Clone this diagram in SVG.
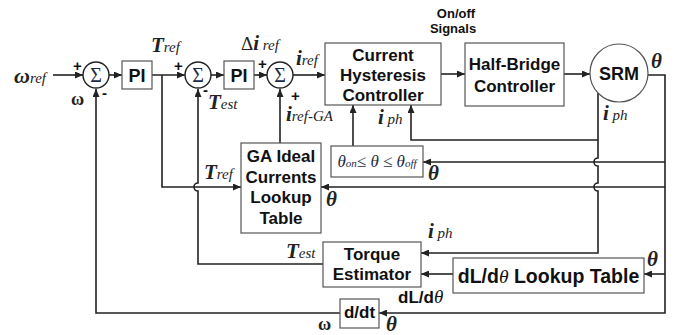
<svg xmlns="http://www.w3.org/2000/svg" width="676" height="335" viewBox="0 0 676 335">
<style>
.ln{stroke:#222;stroke-width:1.6;fill:none}
.box{fill:#fff;stroke:#555;stroke-width:1.2}
.bt{font-family:"Liberation Sans",Arial,sans-serif;font-weight:bold;font-size:17px;fill:#111;text-anchor:middle}
.lb{font-family:"Liberation Serif","Times New Roman",serif;font-style:italic;fill:#222}
.bg{font-weight:bold;font-size:21px}
.sm{font-size:15px;font-weight:normal}
.sg{font-family:"Liberation Sans",Arial,sans-serif;font-weight:bold;font-size:13px;fill:#111}
.sym{font-family:"Liberation Sans",Arial,sans-serif;font-size:15px;font-weight:bold;fill:#111}
.sum{font-family:"Liberation Serif",serif;font-size:20px;fill:#1d2a44;text-anchor:middle}
.sig{font-family:"Liberation Serif",serif;font-size:17px;fill:#1d2a44;text-anchor:middle}
</style>
<defs>
<marker id="ar" viewBox="0 0 8 7" refX="8" refY="3.5" markerWidth="8" markerHeight="7" markerUnits="userSpaceOnUse" orient="auto">
<path d="M0,0 L8,3.5 L0,7 z" fill="#222"/>
</marker>
</defs>
<rect width="676" height="335" fill="#fff"/>

<g id="connectors">
<path class="ln" d="M53,75 H83" marker-end="url(#ar)"/>
<path class="ln" d="M109,75 H122" marker-end="url(#ar)"/>
<path class="ln" d="M152,75 H185" marker-end="url(#ar)"/>
<path class="ln" d="M211,75 H224" marker-end="url(#ar)"/>
<path class="ln" d="M254,75 H267" marker-end="url(#ar)"/>
<path class="ln" d="M293,75 H325" marker-end="url(#ar)"/>
<path class="ln" d="M441,74 H465" marker-end="url(#ar)"/>
<path class="ln" d="M564,74 H590" marker-end="url(#ar)"/>
<path class="ln" d="M162,75 V187 H241" marker-end="url(#ar)"/>
<path class="ln" d="M323,264 H198 V191 A4,4 0 0 1 198,183 V89" marker-end="url(#ar)"/>
<path class="ln" d="M340,313 H96 V89" marker-end="url(#ar)"/>
<path class="ln" d="M280,143 V89" marker-end="url(#ar)"/>
<path class="ln" d="M353,146 V105" marker-end="url(#ar)"/>
<path class="ln" d="M598,93 V158 A4,4 0 0 0 598,166 V183 A4,4 0 0 0 598,191 V253 H421" marker-end="url(#ar)"/>
<path class="ln" d="M598,140 H411 V105" marker-end="url(#ar)"/>
<path class="ln" d="M648,75 H665 V313 H379" marker-end="url(#ar)"/>
<path class="ln" d="M665,162 H423" marker-end="url(#ar)"/>
<path class="ln" d="M665,187 H321" marker-end="url(#ar)"/>
<path class="ln" d="M665,274 H644" marker-end="url(#ar)"/>
<path class="ln" d="M453,274 H421" marker-end="url(#ar)"/>
</g>

<g id="sum1">
<circle cx="96" cy="75" r="13" fill="#fff" stroke="#222" stroke-width="1.4"/>
<text x="96" y="82" class="sum">Σ</text>
<text x="73" y="71" class="sym">+</text>
<text x="102" y="98" class="sym">-</text>
</g>
<g id="pi1">
<rect class="box" x="122" y="61" width="30" height="28"/>
<text x="137" y="81.5" class="bt" style="font-size:18px">PI</text>
</g>
<g id="sum2">
<circle cx="198" cy="75" r="13" fill="#fff" stroke="#222" stroke-width="1.4"/>
<text x="198" y="82" class="sum">Σ</text>
<text x="174" y="71" class="sym">+</text>
<text x="203" y="95" class="sym">-</text>
</g>
<g id="pi2">
<rect class="box" x="224" y="61" width="30" height="28"/>
<text x="239" y="81.5" class="bt" style="font-size:18px">PI</text>
</g>
<g id="sum3">
<circle cx="280" cy="75" r="13" fill="#fff" stroke="#222" stroke-width="1.4"/>
<text x="280" y="82" class="sum">Σ</text>
<text x="258" y="69" class="sym">+</text>
<text x="291" y="101" class="sym">+</text>
</g>
<g id="chc">
<rect class="box" x="325" y="43" width="116" height="62"/>
<text x="383" y="61" class="bt">Current</text>
<text x="383" y="81" class="bt">Hysteresis</text>
<text x="383" y="101" class="bt">Controller</text>
</g>
<g id="signals">
<text x="456" y="18" class="sg" text-anchor="middle">On/off</text>
<text x="453" y="33" class="sg" text-anchor="middle">Signals</text>
</g>
<g id="hbc">
<rect class="box" x="465" y="43" width="99" height="63"/>
<text x="514.5" y="70" class="bt">Half-Bridge</text>
<text x="514.5" y="92" class="bt">Controller</text>
</g>
<g id="srm">
<circle cx="619" cy="73" r="29" fill="#fff" stroke="#555" stroke-width="1.2"/>
<text x="619" y="80" class="bt" style="font-size:18px">SRM</text>
</g>
<g id="ga">
<rect class="box" x="241" y="143" width="80" height="90"/>
<text x="281" y="162" class="bt">GA Ideal</text>
<text x="281" y="182.5" class="bt">Currents</text>
<text x="281" y="203" class="bt">Lookup</text>
<text x="281" y="223.5" class="bt">Table</text>
</g>
<g id="thetabox">
<rect class="box" x="331" y="146" width="92" height="31"/>
<text x="377" y="167" class="sig" font-style="italic">θ<tspan font-size="11">on</tspan>≤ θ ≤ θ<tspan font-size="11">off</tspan></text>
</g>
<g id="te">
<rect class="box" x="323" y="242" width="98" height="45"/>
<text x="372" y="260" class="bt">Torque</text>
<text x="372" y="280" class="bt">Estimator</text>
</g>
<g id="dl">
<rect class="box" x="453" y="258" width="191" height="35"/>
<text x="548.5" y="283" class="bt" style="font-size:19.5px">dL/d<tspan style="font-family:'Liberation Serif',serif;font-style:italic;font-weight:normal">θ</tspan> Lookup Table</text>
</g>
<g id="ddt">
<rect class="box" x="340" y="299" width="39" height="29"/>
<text x="359.5" y="318" class="bt">d/dt</text>
</g>

<g id="labels">
<text x="14" y="83" class="lb"><tspan class="bg" style="font-size:22px">ω</tspan><tspan class="sm">ref</tspan></text>
<text x="71" y="105" class="lb" style="font-style:normal;font-weight:bold;font-size:18px">ω</text>
<text x="151" y="52" class="lb"><tspan class="bg">T</tspan><tspan class="sm">ref</tspan></text>
<text x="208" y="109" class="lb"><tspan class="bg">T</tspan><tspan class="sm">est</tspan></text>
<text x="241" y="50" class="lb"><tspan style="font-style:normal;font-size:19px">Δ</tspan><tspan class="bg">i</tspan><tspan class="sm"> ref</tspan></text>
<text x="296" y="65" class="lb"><tspan class="bg">i</tspan><tspan class="sm">ref</tspan></text>
<text x="286" y="121" class="lb"><tspan class="bg">i</tspan><tspan class="sm">ref-GA</tspan></text>
<text x="378" y="124" class="lb"><tspan class="bg">i</tspan><tspan class="sm"> ph</tspan></text>
<text x="603" y="120" class="lb"><tspan class="bg">i</tspan><tspan class="sm"> ph</tspan></text>
<text x="651" y="68" class="lb bg">θ</text>
<text x="428" y="180" class="lb bg">θ</text>
<text x="326" y="206" class="lb bg">θ</text>
<text x="204" y="179" class="lb"><tspan class="bg">T</tspan><tspan class="sm">ref</tspan></text>
<text x="286" y="258" class="lb"><tspan class="bg">T</tspan><tspan class="sm">est</tspan></text>
<text x="428" y="238" class="lb"><tspan class="bg">i</tspan><tspan class="sm"> ph</tspan></text>
<text x="647" y="266" class="lb bg">θ</text>
<text x="398" y="303" class="bt" style="text-anchor:start">dL/d<tspan style="font-family:'Liberation Serif',serif;font-style:italic;font-weight:normal;font-size:19px">θ</tspan></text>
<text x="386" y="331" class="lb bg">θ</text>
<text x="318" y="330" class="lb" style="font-style:normal;font-weight:bold;font-size:18px">ω</text>
</g>
</svg>
